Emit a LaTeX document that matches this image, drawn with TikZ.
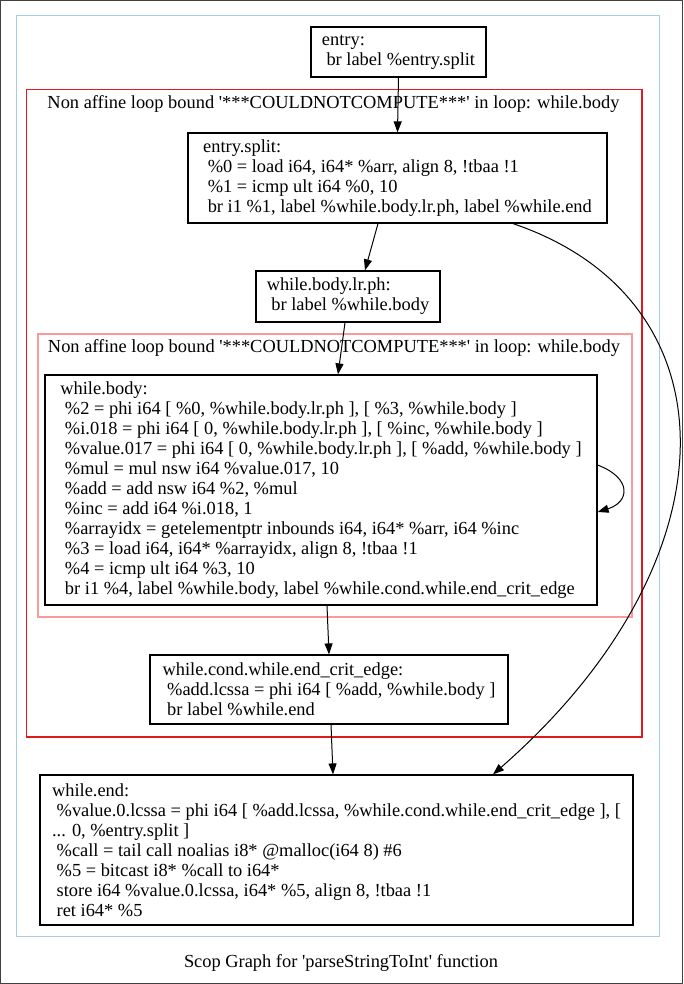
\documentclass[tikz,border=0pt]{standalone}
\usepackage{fontspec}
\setmainfont{Liberation Serif}
\usetikzlibrary{arrows.meta,calc}
\newcommand{\sq}{\textquotesingle}
\definecolor{clblue}{HTML}{A6CEE3}
\definecolor{clred}{HTML}{E31A1C}
\definecolor{clpink}{HTML}{FB9A99}
\begin{document}
\begin{tikzpicture}[x=1pt,y=-1pt,
  txt/.style={font=\fontsize{18.4}{20}\selectfont},
  block/.style={txt,draw=black,line width=1.2pt,rectangle,align=left,inner xsep=0pt,inner ysep=0pt},
  edge/.style={line width=1pt,-{Triangle[length=11pt,width=8pt]}}]
\useasboundingbox (0,0) rectangle (683,984);
\draw[line width=1pt,black!75] (0.5,0.5) rectangle (682.5,983.5);
% clusters
\draw[line width=1.6pt,draw=clblue] (16.5,15.5) rectangle (659.5,936.5);
\draw[line width=1.3pt,draw=clred] (26.5,89.5) rectangle (642,737);
\draw[line width=2pt,draw=clpink] (37.5,333.5) rectangle (631.5,616.5);
\node[txt] (lblred) at (333.5,104) {Non affine loop bound \sq***COULDNOTCOMPUTE***\sq\ in loop: while.body};
\node[txt] (lblpink) at (334,348) {Non affine loop bound \sq***COULDNOTCOMPUTE***\sq\ in loop: while.body};
\node[txt] (title) at (341,963) {Scop Graph for \sq parseStringToInt\sq\ function};
% basic blocks
\node[block,minimum width=175,minimum height=50] (entry) at (398.5,52)
  {entry:\\\ br label \%entry.split};
\node[block,minimum width=419,minimum height=90] (esplit) at (397.5,178)
  {entry.split:\\
   \ \%0 = load i64, i64* \%arr, align 8, !tbaa !1\\
   \ \%1 = icmp ult i64 \%0, 10\\
   \ br i1 \%1, label \%while.body.lr.ph, label \%while.end};
\node[block,minimum width=184,minimum height=51] (lrph) at (348,296.5)
  {while.body.lr.ph:\\\ br label \%while.body};
\node[block,minimum width=552,minimum height=230] (wbody) at (321,490)
  {while.body:\\
   \ \%2 = phi i64 [ \%0, \%while.body.lr.ph ], [ \%3, \%while.body ]\\
   \ \%i.018 = phi i64 [ 0, \%while.body.lr.ph ], [ \%inc, \%while.body ]\\
   \ \%value.017 = phi i64 [ 0, \%while.body.lr.ph ], [ \%add, \%while.body ]\\
   \ \%mul = mul nsw i64 \%value.017, 10\\
   \ \%add = add nsw i64 \%2, \%mul\\
   \ \%inc = add i64 \%i.018, 1\\
   \ \%arrayidx = getelementptr inbounds i64, i64* \%arr, i64 \%inc\\
   \ \%3 = load i64, i64* \%arrayidx, align 8, !tbaa !1\\
   \ \%4 = icmp ult i64 \%3, 10\\
   \ br i1 \%4, label \%while.body, label \%while.cond.while.end\_crit\_edge};
\node[block,minimum width=358,minimum height=69] (crit) at (329,689.5)
  {while.cond.while.end\_crit\_edge:\\
   \ \%add.lcssa = phi i64 [ \%add, \%while.body ]\\
   \ br label \%while.end};
\node[block,minimum width=593,minimum height=150] (wend) at (336.5,850)
  {while.end:\\
   \ \%value.0.lcssa = phi i64 [ \%add.lcssa, \%while.cond.while.end\_crit\_edge ], [\\
   ... 0, \%entry.split ]\\
   \ \%call = tail call noalias i8* @malloc(i64 8) \#6\\
   \ \%5 = bitcast i8* \%call to i64*\\
   \ store i64 \%value.0.lcssa, i64* \%5, align 8, !tbaa !1\\
   \ ret i64* \%5};
% control flow edges
\draw[edge] (entry.south) -- (esplit.north);
\draw[edge] ([xshift=-19.5]esplit.south) -- ([xshift=17]lrph.north);
\draw[edge] ([xshift=-3]lrph.south) -- ([xshift=17]wbody.north);
\draw[edge] ([xshift=6]wbody.south) -- (crit.north);
\draw[edge] ([xshift=2]crit.south) -- ([xshift=-3.5]wend.north);
\draw[edge] ([xshift=115.5]esplit.south) .. controls (738,300) and (738,560) .. ([xshift=156.5]wend.north);
\draw[edge] ([yshift=25]wbody.east) .. controls (632,478) and (630,502) .. ([yshift=-22]wbody.east);
\end{tikzpicture}
\end{document}
